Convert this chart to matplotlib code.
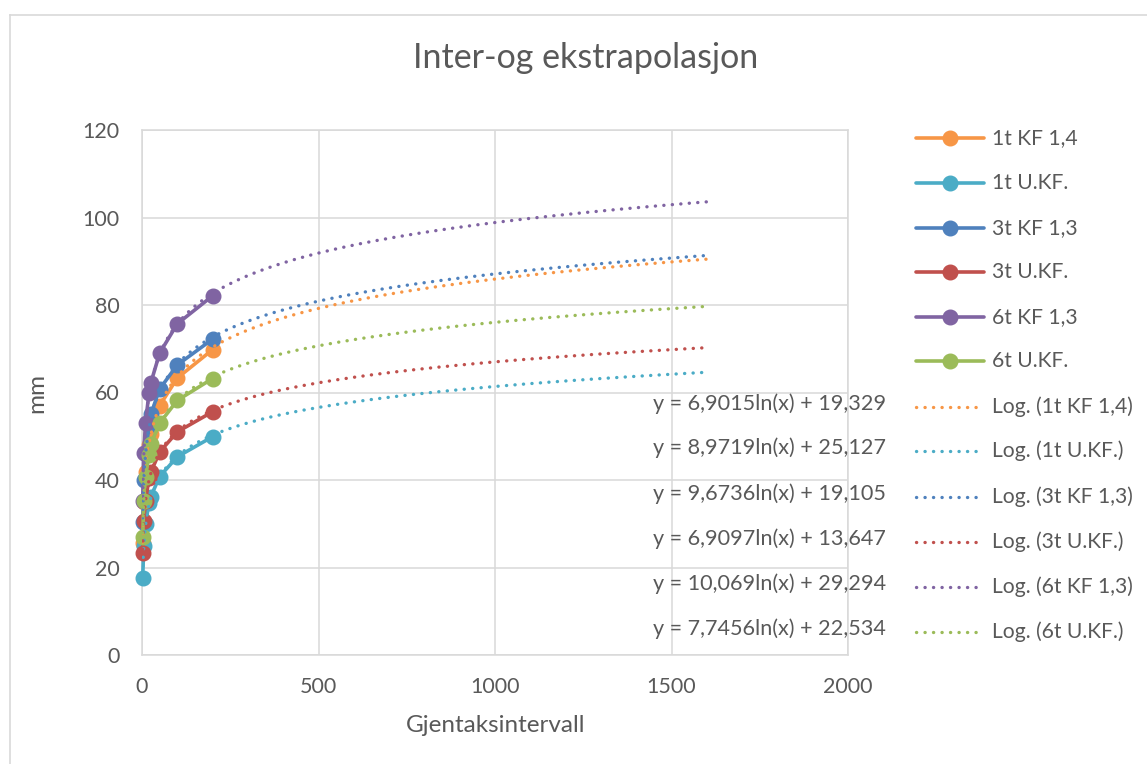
import numpy as np
import matplotlib
matplotlib.use("Agg")
import matplotlib.pyplot as plt
from matplotlib.lines import Line2D

plt.rcParams['font.family'] = ['Lato', 'DejaVu Sans']

# ---------------- data ----------------
x_vals = [2, 5, 10, 20, 25, 50, 100, 200]

series_names = ["1t KF 1,4", "1t U.KF.", "3t KF 1,3", "3t U.KF.", "6t KF 1,3", "6t U.KF."]
series_colors = ["#F79646", "#4BACC6", "#4F81BD", "#C0504D", "#8064A2", "#9BBB59"]

y_1t_kf = [25.5, 35.0, 41.8, 48.0, 50.5, 57.0, 63.3, 69.8]
y_1t_ukf = [17.7, 25.0, 30.0, 34.8, 36.2, 40.8, 45.3, 49.9]
y_3t_kf = [30.5, 40.0, 46.0, 52.5, 55.0, 60.8, 66.3, 72.2]
y_3t_ukf = [23.3, 30.6, 35.3, 40.4, 41.8, 46.4, 51.0, 55.6]
y_6t_kf = [35.3, 46.2, 53.1, 60.0, 62.2, 69.0, 75.7, 82.1]
y_6t_ukf = [26.9, 35.3, 40.8, 45.8, 48.2, 53.0, 58.2, 63.2]
series_values = [y_1t_kf, y_1t_ukf, y_3t_kf, y_3t_ukf, y_6t_kf, y_6t_ukf]

# logarithmic trendline coefficients (slope, intercept) per series, as shown
trend_slope = [9.6736, 6.9097, 8.9719, 6.9015, 10.069, 7.7456]
trend_intercept = [19.105, 13.647, 25.127, 19.329, 29.294, 22.534]
trend_forecast_end = 1600

# equation labels, in the order they appear on the chart
equation_texts = [
    "y = 6,9015ln(x) + 19,329",
    "y = 8,9719ln(x) + 25,127",
    "y = 9,6736ln(x) + 19,105",
    "y = 6,9097ln(x) + 13,647",
    "y = 10,069ln(x) + 29,294",
    "y = 7,7456ln(x) + 22,534",
]

x_ticks = [0, 500, 1000, 1500, 2000]
y_ticks = [0, 20, 40, 60, 80, 100, 120]

title = "Inter-og ekstrapolasjon"
x_label = "Gjentaksintervall"
y_label = "mm"

# ---------------- figure ----------------
W, H = 1147, 764
fig = plt.figure(figsize=(W / 100, H / 100), dpi=100)
fig.patch.set_facecolor("white")

TXT = "#595959"
GRID = "#D9D9D9"

def fx(px):
    return px / W

def fy(py):
    return 1 - py / H

# chart border (top and left visible)
fig.add_artist(Line2D([fx(10), fx(10)], [0, fy(15)], color=GRID, lw=1.2))
fig.add_artist(Line2D([fx(10), 1], [fy(15), fy(15)], color=GRID, lw=1.2))

ax = fig.add_axes([fx(142), fy(655), (848 - 142) / W, (655 - 130) / H])
ax.set_xlim(0, 2000)
ax.set_ylim(0, 120)
ax.set_xticks(x_ticks)
ax.set_yticks(y_ticks)
ax.grid(True, color=GRID, lw=1.1)
ax.set_axisbelow(True)
for s in ax.spines.values():
    s.set_color(GRID)
    s.set_linewidth(1.1)
ax.tick_params(length=0, labelsize=15.5, colors=TXT)
ax.tick_params(axis='y', pad=16)
ax.tick_params(axis='x', pad=16)

LW = 2.6
MS = 10.5
for name, col, ys in zip(series_names, series_colors, series_values):
    ax.plot(x_vals, ys, color=col, lw=LW, marker='o', ms=MS,
            solid_capstyle='round', zorder=3, clip_on=False)

dot_style = (0, (0.05, 2.5))
for col, a, b in zip(series_colors, trend_slope, trend_intercept):
    xt = np.linspace(min(x_vals), trend_forecast_end, 2000)
    ax.plot(xt, a * np.log(xt) + b, color=col, lw=2.4, linestyle=dot_style,
            dash_capstyle='round', zorder=4)

# title and axis labels
fig.text(fx(586), fy(58), title, ha='center', va='center', fontsize=24.5, color=TXT)
fig.text(fx(496), fy(726), x_label, ha='center', va='center', fontsize=17.5, color=TXT)
fig.text(fx(37), fy(393), y_label, ha='center', va='center', fontsize=17.5,
         color=TXT, rotation=90)

# legend (manual, to match layout)
row_y = [138, 183, 228, 272, 317, 361, 407, 451, 497, 542, 587, 632]
legend_labels = series_names + ["Log. (%s)" % n for n in series_names]
for i, lab in enumerate(legend_labels):
    yy = fy(row_y[i])
    col = series_colors[i % 6]
    if i < 6:
        fig.add_artist(Line2D([fx(916), fx(984)], [yy, yy], color=col, lw=LW,
                              solid_capstyle='round'))
        fig.add_artist(Line2D([fx(950)], [yy], color=col, marker='o', ms=MS, lw=0))
    else:
        fig.add_artist(Line2D([fx(916), fx(984)], [yy, yy], color=col, lw=2.4,
                              linestyle=(0, (0.05, 2.5)), dash_capstyle='round'))
    fig.text(fx(992), yy, lab, ha='left', va='center', fontsize=15.2, color=TXT)

# trendline equations
for i, t in enumerate(equation_texts):
    fig.text(fx(886), fy(row_y[6 + i] - 3), t, ha='right', va='center',
             fontsize=15.6, color=TXT)

fig.savefig("out.png", dpi=100, facecolor="white")
